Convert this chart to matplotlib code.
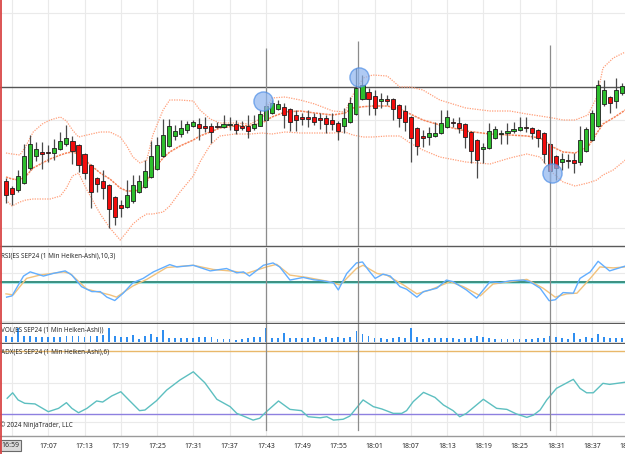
import matplotlib
matplotlib.use("Agg")
import matplotlib.pyplot as plt
from matplotlib.lines import Line2D
import numpy as np

W, H = 625, 454
FONT = ["Noto Sans", "DejaVu Sans"]
INK = "#2B2B2B"
GRID = "#EAEAEA"
GREEN, RED = "#2DBE2D", "#F20C0C"
BAND, MID = "#FF9F7A", "#F7845A"

# 1-minute Heiken-Ashi bars from 17:00 to 18:42 (index = minutes after 17:00)
opens = [5601.9, 5601.2, 5601.0, 5601.7, 5603.2, 5604.4, 5604.8, 5604.8, 5604.7, 5605.1,
         5605.6, 5605.9, 5605.5, 5604.6, 5603.5, 5602.2, 5601.9, 5601.5, 5600.3, 5599.5,
         5599.3, 5599.9, 5600.8, 5601.3, 5602.3, 5603.1, 5604.4, 5605.4, 5606.4, 5606.6,
         5607.0, 5607.4, 5607.6, 5607.4, 5607.4, 5607.4, 5607.3, 5607.5, 5607.6, 5607.4,
         5607.4, 5607.2, 5607.4, 5608.0, 5608.7, 5609.1, 5609.3, 5609.1, 5608.5, 5608.3,
         5608.3, 5608.3, 5608.2, 5608.2, 5608.0, 5607.7, 5607.4, 5607.8, 5608.6, 5610.1,
         5610.8, 5610.4, 5609.9, 5610.1, 5610.1, 5609.5, 5608.9, 5608.3, 5607.2, 5606.4,
         5606.3, 5606.4, 5606.7, 5607.3, 5607.8, 5607.7, 5607.6, 5606.8, 5606.0, 5605.1,
         5605.2, 5606.2, 5606.6, 5606.7, 5606.9, 5607.0, 5607.3, 5607.2, 5607.0, 5606.7,
         5605.6, 5604.4, 5603.8, 5604.0, 5604.0, 5603.8, 5604.9, 5606.0, 5607.4, 5609.6,
         5610.3, 5609.9, 5610.7]
highs = [5602.2, 5601.4, 5603.0, 5605.6, 5606.5, 5605.8, 5605.8, 5605.5, 5606.1, 5606.8,
         5607.5, 5606.4, 5605.6, 5604.7, 5603.6, 5602.3, 5603.0, 5601.6, 5600.4, 5600.0,
         5602.0, 5602.5, 5602.5, 5604.0, 5605.9, 5606.3, 5608.1, 5608.1, 5607.5, 5608.0,
         5607.9, 5608.0, 5608.2, 5608.3, 5607.7, 5607.8, 5608.5, 5608.3, 5608.0, 5607.9,
         5608.5, 5608.5, 5609.0, 5609.8, 5610.0, 5610.0, 5609.7, 5609.2, 5609.0, 5608.7,
         5609.0, 5608.7, 5608.7, 5608.5, 5608.7, 5607.9, 5609.2, 5610.3, 5613.2, 5612.5,
         5611.2, 5611.0, 5610.7, 5610.5, 5610.2, 5609.6, 5609.5, 5608.4, 5607.3, 5607.0,
         5607.3, 5607.8, 5609.0, 5609.0, 5608.2, 5608.3, 5607.7, 5606.9, 5606.1, 5605.7,
         5607.7, 5607.4, 5607.0, 5607.7, 5607.8, 5608.3, 5608.3, 5607.3, 5607.1, 5606.8,
         5605.7, 5604.5, 5604.7, 5604.6, 5604.7, 5607.4, 5607.3, 5609.0, 5612.0, 5612.0,
         5610.4, 5612.2, 5611.7]
lows = [5599.7, 5599.5, 5600.8, 5601.6, 5603.0, 5603.9, 5603.1, 5603.8, 5604.0, 5605.0,
        5605.4, 5603.6, 5602.8, 5602.1, 5599.2, 5600.8, 5600.1, 5597.2, 5597.5, 5598.3,
        5599.2, 5599.7, 5600.7, 5601.2, 5602.2, 5603.0, 5604.3, 5605.3, 5606.0, 5606.3,
        5606.7, 5607.3, 5606.0, 5606.8, 5605.7, 5607.2, 5607.2, 5607.0, 5606.6, 5607.0,
        5606.2, 5607.0, 5607.4, 5607.9, 5608.6, 5609.0, 5607.2, 5606.9, 5606.9, 5607.5,
        5607.3, 5607.5, 5607.1, 5606.7, 5607.0, 5606.0, 5606.7, 5607.7, 5608.5, 5610.0,
        5608.5, 5608.5, 5609.2, 5609.5, 5608.0, 5607.3, 5606.9, 5603.8, 5604.5, 5605.3,
        5605.5, 5606.3, 5606.6, 5607.2, 5607.3, 5606.7, 5605.2, 5603.7, 5602.2, 5603.7,
        5605.1, 5606.1, 5605.6, 5605.6, 5606.7, 5606.9, 5606.8, 5606.1, 5605.3, 5603.7,
        5601.8, 5602.0, 5603.0, 5603.2, 5602.7, 5603.5, 5604.8, 5605.9, 5607.3, 5609.4,
        5608.7, 5609.2, 5610.5]
closes = [5600.5, 5600.6, 5602.4, 5604.4, 5605.6, 5605.1, 5604.6, 5604.75, 5605.2, 5605.9,
          5606.2, 5604.9, 5603.5, 5602.7, 5600.8, 5601.6, 5601.2, 5599.1, 5598.3, 5599.2,
          5600.5, 5601.5, 5601.9, 5602.9, 5604.4, 5605.5, 5606.5, 5607.4, 5606.9, 5607.2,
          5607.6, 5607.8, 5607.2, 5607.2, 5606.8, 5607.35, 5607.6, 5607.6, 5607.0, 5607.25,
          5606.9, 5607.6, 5608.6, 5609.4, 5609.7, 5609.6, 5608.5, 5607.8, 5608.0, 5608.1,
          5608.1, 5607.8, 5608.0, 5607.6, 5607.6, 5606.9, 5608.2, 5609.7, 5611.2, 5611.5,
          5610.1, 5609.2, 5610.1, 5609.9, 5609.1, 5608.2, 5607.8, 5606.2, 5605.4, 5606.2,
          5606.7, 5606.7, 5607.7, 5608.3, 5607.7, 5607.2, 5606.3, 5604.9, 5604.0, 5605.3,
          5606.9, 5607.1, 5606.7, 5606.9, 5607.1, 5607.3, 5607.2, 5606.7, 5606.2, 5604.6,
          5602.9, 5603.2, 5604.1, 5603.95, 5603.7, 5606.0, 5607.1, 5608.7, 5611.5, 5611.0,
          5609.7, 5611.0, 5611.4]
volumes = [600, 530, 1370, 600, 600, 470, 470, 470, 470, 470,
           600, 600, 600, 530, 630, 630, 700, 1370, 630, 470,
           470, 670, 300, 600, 800, 470, 1200, 430, 370, 370,
           370, 430, 470, 470, 470, 300, 300, 300, 200, 300,
           430, 470, 470, 1370, 430, 430, 870, 430, 430, 430,
           430, 470, 270, 470, 370, 530, 370, 470, 1130, 800,
           630, 430, 370, 300, 370, 470, 430, 1370, 470, 300,
           370, 370, 370, 370, 370, 300, 430, 430, 630, 530,
           370, 300, 270, 300, 300, 300, 270, 270, 370, 430,
           630, 530, 430, 300, 930, 300, 470, 430, 800, 530,
           370, 370, 370]

# Bollinger envelope, read at sample bars
band_x = [0, 1, 2.3, 3.3, 4.5, 6, 7.3, 9, 10, 11, 12, 13.4, 15.6, 17.2, 18.9, 20, 21,
          22.2, 23.3, 24.3, 26, 27.1, 28.8, 31, 32.1, 33.8, 35.4, 37.9, 40.4, 42.4, 44,
          46.2, 48.7, 51.1, 54.1, 56.1, 57.4, 59.1, 60.7, 63.1, 65.2, 66.9, 69, 71.8,
          76.1, 80.1, 83.4, 86.2, 88.4, 90.5, 92.2, 94.2, 96.3, 97.8, 98.8, 100.5, 102.5]
band_up = [5604.7, 5604.6, 5604.5, 5605.4, 5606.8, 5607.6, 5608.0, 5608.3, 5607.9, 5607.0,
           5606.3, 5606.5, 5606.8, 5606.8, 5606.3, 5605.4, 5604.3, 5603.7, 5604.0, 5606.5,
           5609.0, 5610.0, 5610.0, 5609.9, 5609.0, 5608.1, 5607.7, 5607.7, 5607.6, 5608.2,
           5610.2, 5610.3, 5610.0, 5609.6, 5608.9, 5608.8, 5610.5, 5612.2, 5612.5, 5612.4,
           5611.3, 5611.3, 5611.0, 5610.0, 5609.2, 5608.9, 5608.9, 5608.6, 5608.4, 5608.2,
           5608.0, 5608.0, 5608.5, 5610.3, 5613.2, 5614.2, 5614.8]
band_mid = [5602.3, 5602.1, 5602.0, 5602.4, 5603.2, 5603.7, 5604.1, 5604.5, 5604.7, 5604.8,
            5604.6, 5603.8, 5602.7, 5602.1, 5601.2, 5600.9, 5600.9, 5601.0, 5601.8, 5603.0,
            5604.2, 5604.8, 5605.4, 5606.0, 5606.4, 5606.8, 5607.2, 5607.4, 5607.45, 5607.7,
            5608.3, 5608.8, 5608.9, 5608.7, 5608.5, 5608.7, 5609.2, 5609.33, 5609.4, 5609.4,
            5609.1, 5608.6, 5608.0, 5607.5, 5606.9, 5606.6, 5606.5, 5606.4, 5606.2, 5605.3,
            5604.8, 5604.7, 5605.3, 5606.7, 5607.6, 5608.2, 5609.0]
band_lo = [5600.0, 5599.4, 5599.8, 5600.0, 5600.1, 5600.1, 5600.1, 5600.4, 5601.2, 5602.4,
           5602.7, 5601.0, 5598.6, 5597.2, 5596.0, 5596.8, 5597.6, 5598.2, 5598.6, 5598.6,
           5598.8, 5599.4, 5600.8, 5602.4, 5603.8, 5605.5, 5606.4, 5606.6, 5606.6, 5606.7,
           5606.6, 5606.8, 5606.7, 5606.7, 5606.7, 5606.8, 5606.5, 5606.3, 5606.3, 5606.4,
           5606.4, 5605.7, 5605.0, 5604.3, 5603.8, 5603.6, 5604.2, 5604.6, 5604.3, 5602.7,
           5601.8, 5601.4, 5601.7, 5602.0, 5602.5, 5603.0, 5604.0]

# RSI(10,3): RSI line and its average
rsi_x = [0.1, 1, 2.9, 4, 6.2, 7.8, 9.8, 10.9, 12.5, 14.2, 15.6, 16.7, 18, 19.4, 21, 22.7,
         24.4, 27.1, 28.3, 31, 33.8, 36.5, 38.2, 39.3, 40.3, 42.6, 44.2, 45.3, 47, 49.2,
         50.9, 52.5, 54.2, 55, 56.4, 58, 59, 60, 61.1, 62.4, 63.6, 65.2, 66.3, 68, 69.1,
         71.3, 72.9, 74, 76.2, 77.9, 80.1, 81.8, 83.4, 85.6, 86.7, 88.4, 89.9, 90.9, 92.2,
         93.9, 95, 96.7, 98, 99.9, 102.4]
rsi_v = [33.8, 35.5, 61.9, 67.5, 61.9, 65.4, 68.8, 63.2, 47.8, 41.2, 41.2, 33.8, 29.3, 39.1,
         53.0, 58.8, 67.5, 77.2, 74.1, 76.3, 68.8, 72.0, 66.2, 67.5, 61.9, 76.3, 79.4, 74.1,
         56.6, 60.1, 57.0, 55.6, 53.0, 43.4, 65.4, 79.4, 80.7, 69.7, 58.8, 64.5, 61.9, 47.8,
         44.4, 33.8, 41.2, 45.7, 56.6, 54.4, 43.4, 32.5, 54.4, 53.0, 55.6, 56.6, 54.4, 45.7,
         29.0, 30.3, 39.9, 39.1, 58.8, 67.5, 81.6, 68.8, 75.0]
avg_x = [0, 1.2, 3.4, 5.6, 9.5, 10.6, 13.4, 15, 17.2, 18.3, 21, 23.3, 26.6, 31, 34.3, 37.6,
         39.8, 43.1, 44.8, 47, 49.8, 53.6, 55.3, 58, 59.1, 61.4, 63, 65.8, 68, 70.2, 73.5,
         75.7, 78.5, 80.6, 83.4, 86.2, 88.9, 90.9, 92.8, 94.5, 96.7, 98.3, 100.5, 102.5]
avg_v = [38.2, 36.8, 58.8, 63.2, 67.5, 65.4, 44.4, 41.2, 36.8, 33.8, 48.7, 57.5, 73.3, 76.3,
         70.7, 68.4, 65.4, 74.1, 77.6, 63.2, 60.1, 54.4, 50.0, 72.0, 76.3, 65.4, 63.2, 50.0,
         38.2, 43.4, 54.4, 47.8, 35.5, 51.3, 54.4, 57.5, 45.7, 33.8, 38.2, 39.1, 58.8, 74.1,
         72.8, 74.1]

# ADX(6)
adx_x = [0.2, 1.1, 2, 3.1, 4.8, 7, 8.7, 10, 10.9, 12, 13.4, 15, 16, 17.5, 19, 20.5, 22.1,
         23, 24.9, 26.6, 28.8, 31, 32.9, 34.9, 37.1, 38.2, 39.3, 40.9, 42, 42.9, 45.1, 47,
         48.9, 50, 52, 53.1, 54.2, 55.8, 56.9, 59.1, 60.8, 62.2, 64.1, 65.5, 66.3, 67.4,
         69.1, 71, 72.4, 74, 75.1, 76.2, 79, 81.2, 82.9, 84.5, 86.2, 87.3, 88.4, 89.5,
         91.1, 93.9, 95, 96.1, 97.2, 98.8, 99.9, 102.4]
adx_v = [27.5, 30.1, 26.7, 25.1, 24.8, 21.1, 22.7, 25.4, 22.7, 20.6, 22.7, 26.2, 25.7, 28.6,
         30.6, 26.2, 21.6, 21.9, 26.3, 31.4, 36.2, 40.1, 34.9, 27.0, 23.5, 20.3, 19.0, 17.1,
         18.0, 20.6, 26.2, 22.2, 21.6, 18.7, 18.2, 18.7, 17.1, 17.5, 19.0, 26.7, 23.5, 22.4,
         20.3, 20.3, 21.6, 25.9, 30.3, 27.9, 24.3, 21.6, 18.7, 20.3, 27.0, 22.7, 22.2, 20.0,
         18.4, 19.5, 21.9, 26.7, 32.2, 36.5, 32.2, 30.1, 30.1, 34.6, 34.1, 35.1]

# drawing objects on the chart
hline_price = 5611.3
vline_x = [42.95, 58.2, 90.0]
vline_top = [5615.2, 5615.9, 5615.5]
circle_x = [42.6, 58.5, 90.4]
circle_p = [5609.9, 5612.3, 5602.75]

times = ["17:01", "17:07", "17:13", "17:19", "17:25", "17:31", "17:37", "17:43", "17:49",
         "17:55", "18:01", "18:07", "18:13", "18:19", "18:25", "18:31", "18:37", "18:43"]
time_x = [1, 7, 13, 19, 25, 31, 37, 43, 49, 55, 61, 67, 73, 79, 85, 91, 97, 103]

XLIM = (-0.993, 102.45)

plt.rcParams["font.family"] = FONT
fig = plt.figure(figsize=(W / 100, H / 100), dpi=100)
fig.patch.set_facecolor("white")


def panel(top, bottom, ylim):
    ax = fig.add_axes([0, 1 - bottom / H, 1, (bottom - top) / H])
    ax.set_xlim(*XLIM)
    ax.set_ylim(*ylim)
    ax.set_xticks([])
    ax.set_yticks([])
    for s in ("left", "right", "top"):
        ax.spines[s].set_visible(False)
    ax.spines["bottom"].set_color("#5A5A5A")
    ax.spines["bottom"].set_linewidth(1.0)
    for t in time_x:
        ax.axvline(t, color=GRID, lw=0.8, zorder=0)
    return ax


ax_p = panel(0, 246.5, (5595.35, 5620.0))
ax_r = panel(247.5, 322.5, (0, 100))
ax_v = panel(323.5, 342.5, (-50, 1850))
ax_a = panel(343.5, 435.5, (9.77, 53.56))
ax_a.spines["bottom"].set_color("#9A9A9A")

# --- price panel -------------------------------------------------------------
for g in (5618.7, 5608.0, 5597.2):
    ax_p.axhline(g, color=GRID, lw=0.8, zorder=0)
ax_p.axhline(hline_price, color="#555555", lw=1.0, zorder=2)

ax_p.plot(band_x, band_up, color=BAND, lw=0.9, ls=(0, (1, 1)), zorder=2)
ax_p.plot(band_x, band_lo, color=BAND, lw=0.9, ls=(0, (1, 1)), zorder=2)
ax_p.plot(band_x, band_mid, color=MID, lw=1.1, ls=(0, (1.5, 0.6)), zorder=2)

x = np.arange(len(opens))
o, hi, lo, c = (np.array(v) for v in (opens, highs, lows, closes))
up = c >= o
ax_p.vlines(x, lo, hi, color="#4A4A4A", lw=0.9, zorder=3)
ax_p.bar(x, np.maximum(np.abs(c - o), 0.06), bottom=np.minimum(o, c), width=0.68,
         color=np.where(up, GREEN, RED), edgecolor="#1E1E1E", linewidth=0.6, zorder=4)

ax_p.vlines(vline_x, 5595.35, vline_top, color="#8C8C8C", lw=0.9, zorder=5)
ax_p.scatter(circle_x, circle_p, s=190, facecolor="#8DB4EE", edgecolor="#4E8EE6",
             alpha=0.7, lw=1.0, zorder=6)

# --- RSI ---------------------------------------------------------------------
ax_r.axhline(65.8, color=GRID, lw=0.8, zorder=0)
ax_r.axhline(2.0, color=GRID, lw=0.8, zorder=0)
ax_r.axhline(53.4, color="#A6E8E8", lw=2.2, zorder=1)
ax_r.axhline(54.6, color="#1F7A66", lw=1.1, zorder=1)
ax_r.plot(avg_x, avg_v, color="#F2C27C", lw=1.0, zorder=2)
ax_r.plot(rsi_x, rsi_v, color="#62AEFF", lw=1.0, zorder=3)
ax_r.text(0.002, 0.89, "RSI(ES SEP24 (1 Min Heiken-Ashi),10,3)", transform=ax_r.transAxes,
          fontsize=4.6, color=INK, va="center", ha="left")

# --- volume ------------------------------------------------------------------
ax_v.bar(x, volumes, width=0.3, color="#2F8EF0", zorder=2)
ax_v.text(0.002, 0.66, "VOL(ES SEP24 (1 Min Heiken-Ashi))", transform=ax_v.transAxes,
          fontsize=4.6, color=INK, va="center", ha="left", zorder=3)

# --- ADX ---------------------------------------------------------------------
ax_a.axhline(34.8, color=GRID, lw=0.8, zorder=0)
ax_a.axhline(16.3, color=GRID, lw=0.8, zorder=0)
ax_a.axhline(50, color="#E9B86A", lw=1.0, zorder=1)
ax_a.axhline(20, color="#8E80E0", lw=1.0, zorder=1)
ax_a.plot(adx_x, adx_v, color="#5DBFC0", lw=1.0, zorder=2)
ax_a.text(0.002, 0.913, "ADX(ES SEP24 (1 Min Heiken-Ashi),6)", transform=ax_a.transAxes,
          fontsize=4.6, color=INK, va="center", ha="left", zorder=3)
ax_a.text(0.0, 0.11, "© 2024 NinjaTrader, LLC", transform=ax_a.transAxes,
          fontsize=4.6, color=INK, va="center", ha="left", zorder=3)

# drawn vertical lines run through the indicator panels
for ax in (ax_r, ax_v):
    for vx in vline_x:
        ax.axvline(vx, color="#8C8C8C", lw=0.9, zorder=4)
for vx in vline_x:
    ax_a.axvline(vx, ymin=0.06, color="#8C8C8C", lw=0.9, zorder=4)

# --- time axis ---------------------------------------------------------------
# the 17:01 label sits under the 16:59 cursor box, and 18:43 runs off the right
# edge, as in the platform screenshot
lab_y = -(446.5 - 435.5) / 92.0
for t, s in zip(time_x, times):
    ax_a.text(t, lab_y, s, transform=ax_a.get_xaxis_transform(), fontsize=5.0,
              color=INK, ha="center", va="center", clip_on=False)
fig.text(1.5 / W, 1 - 445.5 / H, "16:59", fontsize=5.0, color=INK, ha="left",
         va="center", zorder=10,
         bbox=dict(boxstyle="square,pad=0.25", fc="#DADADA", ec="#6A6A6A", lw=0.8))

fig.add_artist(Line2D([1.3 / W, 1.3 / W], [0, 1], transform=fig.transFigure,
                      color="#D94545", lw=1.3, zorder=20))

fig.savefig("out.png", dpi=100, facecolor="white")
